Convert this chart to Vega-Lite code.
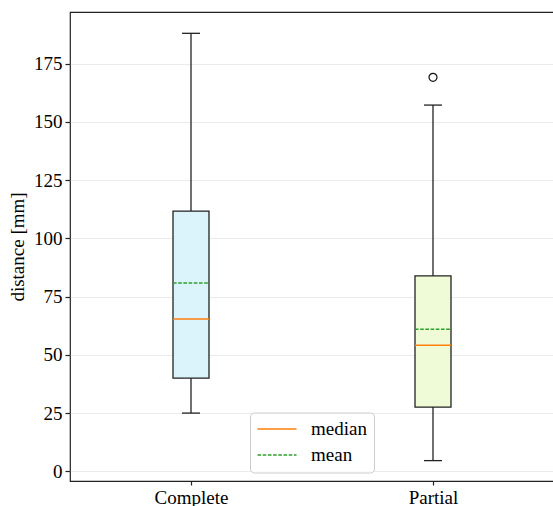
{
  "$schema": "https://vega.github.io/schema/vega-lite/v6.json",
  "width": 484,
  "height": 469,
  "autosize": {"type": "none"},
  "padding": {"left": 70, "top": 12, "right": 0, "bottom": 25},
  "background": "white",
  "config": {
    "font": "Liberation Serif",
    "view": {"stroke": "#222222", "strokeWidth": 1.2},
    "axis": {
      "domain": false,
      "labelFont": "Liberation Serif",
      "labelFontSize": 19,
      "labelColor": "#000000",
      "titleFont": "Liberation Serif",
      "titleFontSize": 19,
      "titleFontWeight": "normal",
      "titleColor": "#000000",
      "tickColor": "#222222",
      "tickWidth": 1.2,
      "tickSize": 5
    },
    "legend": {
      "orient": "none",
      "legendX": 180,
      "legendY": 400.5,
      "padding": 7,
      "labelFont": "Liberation Serif",
      "labelFontSize": 19,
      "labelColor": "#000000",
      "symbolType": "M-4.5,0H15",
      "symbolSize": 16,
      "symbolStrokeWidth": 1.5,
      "labelOffset": 35,
      "rowPadding": 6,
      "strokeColor": "#cccccc",
      "fillColor": "rgba(255,255,255,0.8)",
      "cornerRadius": 4
    }
  },
  "datasets": {
    "boxes": [
      {"group": "Complete", "lower": 25, "q1": 40, "median": 65.4, "mean": 80.8, "q3": 111.7, "upper": 188},
      {"group": "Partial", "lower": 4.6, "q1": 27.6, "median": 54.1, "mean": 61.0, "q3": 83.9, "upper": 157.2}
    ],
    "outliers": [
      {"group": "Partial", "value": 169.1}
    ]
  },
  "layer": [
    {
      "data": {"name": "boxes"},
      "mark": {"type": "rule", "color": "#222222", "strokeWidth": 1.3},
      "encoding": {
        "x": {
          "field": "group", "type": "nominal",
          "scale": {"type": "point", "padding": 0.5, "domain": ["Complete", "Partial"]},
          "axis": {"title": null, "labelAngle": 0, "grid": false, "tickSize": 4, "labelPadding": 3}
        },
        "y": {
          "field": "lower", "type": "quantitative",
          "scale": {"domain": [-4.15, 197.15], "nice": false, "zero": false},
          "axis": {
            "title": "distance [mm]",
            "values": [0, 25, 50, 75, 100, 125, 150, 175],
            "grid": true, "gridColor": "#ebebeb", "gridWidth": 1,
            "labelPadding": 3, "titlePadding": 6
          }
        },
        "y2": {"field": "upper"}
      }
    },
    {
      "data": {"name": "boxes"},
      "mark": {"type": "rule", "color": "#222222", "strokeWidth": 1.3, "xOffset": -9, "x2Offset": 9},
      "encoding": {
        "x": {"field": "group", "type": "nominal"},
        "x2": {"field": "group"},
        "y": {"field": "lower", "type": "quantitative"}
      }
    },
    {
      "data": {"name": "boxes"},
      "mark": {"type": "rule", "color": "#222222", "strokeWidth": 1.3, "xOffset": -9, "x2Offset": 9},
      "encoding": {
        "x": {"field": "group", "type": "nominal"},
        "x2": {"field": "group"},
        "y": {"field": "upper", "type": "quantitative"}
      }
    },
    {
      "data": {"name": "boxes"},
      "mark": {"type": "rect", "stroke": "#222222", "strokeWidth": 1.3, "xOffset": -18, "x2Offset": 18},
      "encoding": {
        "x": {"field": "group", "type": "nominal"},
        "x2": {"field": "group"},
        "y": {"field": "q1", "type": "quantitative"},
        "y2": {"field": "q3"},
        "fill": {
          "field": "group", "type": "nominal",
          "scale": {"domain": ["Complete", "Partial"], "range": ["#dbf3fa", "#effad6"]},
          "legend": null
        }
      }
    },
    {
      "data": {"name": "boxes"},
      "transform": [{"fold": ["median", "mean"], "as": ["stat", "value"]}],
      "mark": {"type": "rule", "strokeWidth": 1.5, "xOffset": -18, "x2Offset": 18},
      "encoding": {
        "x": {"field": "group", "type": "nominal"},
        "x2": {"field": "group"},
        "y": {"field": "value", "type": "quantitative"},
        "color": {
          "field": "stat", "type": "nominal",
          "scale": {"domain": ["median", "mean"], "range": ["#ff7f0e", "#2ca02c"]},
          "legend": {"title": null}
        },
        "strokeDash": {
          "field": "stat", "type": "nominal",
          "scale": {"domain": ["median", "mean"], "range": [[1, 0], [3.6, 1.6]]},
          "legend": {"title": null}
        }
      }
    },
    {
      "data": {"name": "outliers"},
      "mark": {"type": "point", "shape": "circle", "filled": false, "size": 64, "color": "#111111", "strokeWidth": 1.2, "opacity": 1},
      "encoding": {
        "x": {"field": "group", "type": "nominal"},
        "y": {"field": "value", "type": "quantitative"}
      }
    }
  ]
}
